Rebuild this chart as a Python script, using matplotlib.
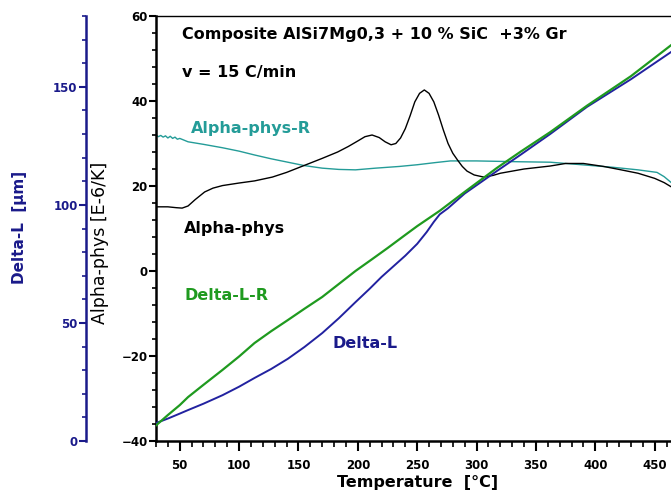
import numpy as np
import matplotlib
matplotlib.use("Agg")
from matplotlib import pyplot as plt
from matplotlib.ticker import MultipleLocator

# Alpha-phys (black), E-6/K
t_alpha = [30, 40, 47, 52, 57, 63, 71, 78, 86, 100, 113, 128, 140, 150, 160, 170, 183, 192, 200,
           206, 212, 218, 223, 228, 232, 236, 240, 244, 248, 252, 256, 260, 264, 268, 272, 276,
           280, 284, 288, 292, 298, 306, 314, 320, 340, 362, 375, 390, 407, 420, 436, 450, 458, 464]
alpha = [15.1, 15.1, 14.9, 14.8, 15.3, 16.8, 18.6, 19.5, 20.1, 20.7, 21.2, 22.1, 23.2, 24.3, 25.4,
         26.5, 28.0, 29.3, 30.6, 31.6, 32.0, 31.4, 30.4, 29.7, 30.0, 31.3, 33.5, 36.5, 39.8, 41.8,
         42.6, 41.8, 39.8, 36.7, 33.2, 30.0, 27.7, 26.1, 24.6, 23.5, 22.6, 22.1, 22.5, 23.0, 24.0,
         24.7, 25.3, 25.3, 24.6, 23.9, 23.0, 21.8, 20.8, 19.8]

# Alpha-phys-R (teal)
t_alpha_r = [30, 32, 34, 36, 38, 40, 42, 44, 46, 48, 50, 57, 70, 86, 100, 113, 127, 141, 155, 170,
             184, 198, 215, 235, 250, 265, 278, 300, 337, 362, 393, 415, 436, 452, 458, 464]
alpha_r = [32.0, 31.6, 31.9, 31.5, 31.8, 31.3, 31.7, 31.2, 31.5, 31.0, 31.2, 30.4, 29.8, 29.0, 28.2,
           27.3, 26.4, 25.6, 24.8, 24.2, 23.9, 23.8, 24.2, 24.6, 25.0, 25.5, 25.9, 25.9, 25.7,
           25.6, 24.9, 24.4, 23.8, 23.2, 22.2, 20.8]

# Delta-L (navy) and Delta-L-R (green), um
t_dl = [30, 40, 50, 57, 70, 86, 100, 113, 127, 141, 155, 170, 184, 198, 210, 220, 230, 240, 250,
        258, 264, 269, 276, 290, 317, 337, 362, 393, 430, 464]
dl = [7.6, 9.5, 11.6, 13.1, 15.8, 19.4, 23.0, 26.7, 30.5, 34.8, 39.8, 45.7, 52.0, 58.8, 64.5, 69.5,
      74.0, 78.5, 83.5, 88.5, 92.8, 96.0, 98.6, 104.8, 114.3, 121.2, 130.0, 141.5, 153.2, 164.8]
t_dl_r = [30, 40, 50, 57, 70, 86, 100, 113, 127, 141, 155, 170, 184, 198, 212, 225, 240, 250, 269,
          290, 317, 337, 362, 393, 430, 464]
dl_r = [6.6, 11.0, 15.2, 18.6, 23.8, 30.1, 35.8, 41.5, 46.5, 51.2, 56.0, 61.0, 66.5, 72.0, 77.0,
        81.7, 87.3, 91.0, 97.5, 105.5, 115.6, 122.5, 130.8, 142.0, 154.5, 167.7]

navy = '#1a1a8a'
blue = '#2222a0'
green = '#1f9a1f'
teal = '#249c98'

plt.rcParams['font.family'] = 'DejaVu Sans'
plt.rcParams['font.weight'] = 'bold'

W, H = 671, 490
fig = plt.figure(figsize=(W/100, H/100), dpi=100)
rect = [156/W, 49/H, 520/W, 425/H]
ax = fig.add_axes(rect)

ax.plot(t_alpha_r, alpha_r, color=teal, lw=1.0)
ax.plot(t_alpha, alpha, color='black', lw=1.0)
ax.set_xlim(30, 468)
ax.set_ylim(-40, 60)
ax.yaxis.set_major_locator(MultipleLocator(20))
ax.yaxis.set_minor_locator(MultipleLocator(4))
ax.xaxis.set_minor_locator(MultipleLocator(10))
ax.set_xticks([50, 100, 150, 200, 250, 300, 350, 400, 450])
ax.spines['right'].set_visible(False)
ax.spines['left'].set_linewidth(1.8)
ax.spines['bottom'].set_linewidth(1.8)
ax.spines['top'].set_linewidth(1.0)
ax.tick_params(axis='y', which='major', length=5, width=1.5, labelsize=8.5, pad=1)
ax.tick_params(axis='y', which='minor', length=3, width=1.2)
ax.tick_params(axis='x', which='major', length=7, width=1.5, labelsize=8.5, pad=6)
ax.tick_params(axis='x', which='minor', length=4, width=1.2)

ax2 = ax.twinx()
ax2.plot(t_dl, dl, color=blue, lw=1.4)
ax2.plot(t_dl_r, dl_r, color=green, lw=1.6)
ax2.set_ylim(0, 180)
ax2.yaxis.tick_left()
for s in ['right', 'top', 'bottom']:
    ax2.spines[s].set_visible(False)
ax2.spines['left'].set_visible(True)
ax2.spines['left'].set_position(('axes', -70/520))
ax2.spines['left'].set_color(navy)
ax2.spines['left'].set_linewidth(1.8)
ax2.yaxis.set_major_locator(MultipleLocator(50))
ax2.yaxis.set_minor_locator(MultipleLocator(10))
ax2.tick_params(axis='y', which='major', length=5, width=1.5, labelsize=8.5, pad=1,
                colors=navy)
ax2.tick_params(axis='y', which='minor', length=3, width=1.2, colors=navy)

fig.text(182/W, 1-35/H, 'Composite AlSi7Mg0,3 + 10 % SiC  +3% Gr', fontsize=11.5,
         va='center', ha='left')
fig.text(182/W, 1-72/H, 'v = 15 C/min', fontsize=11.5, va='center', ha='left')
fig.text(191/W, 1-128/H, 'Alpha-phys-R', fontsize=11.5, color=teal, va='center', ha='left')
fig.text(184/W, 1-228/H, 'Alpha-phys', fontsize=11.5, color='black', va='center', ha='left')
fig.text(185/W, 1-295/H, 'Delta-L-R', fontsize=11.5, color=green, va='center', ha='left')
fig.text(332/W, 1-344/H, 'Delta-L', fontsize=11.5, color=navy, va='center', ha='left')
fig.text(100/W, 1-243/H, 'Alpha-phys [E-6/K]', fontsize=12.5, fontweight='normal',
         rotation=90, va='center', ha='center')
fig.text(20/W, 1-227/H, 'Delta-L  [µm]', fontsize=11, color=navy, rotation=90,
         va='center', ha='center')
fig.text(418/W, 1-482/H, 'Temperature  [°C]', fontsize=11.5, va='center', ha='center')

fig.savefig('out.png', dpi=100)
